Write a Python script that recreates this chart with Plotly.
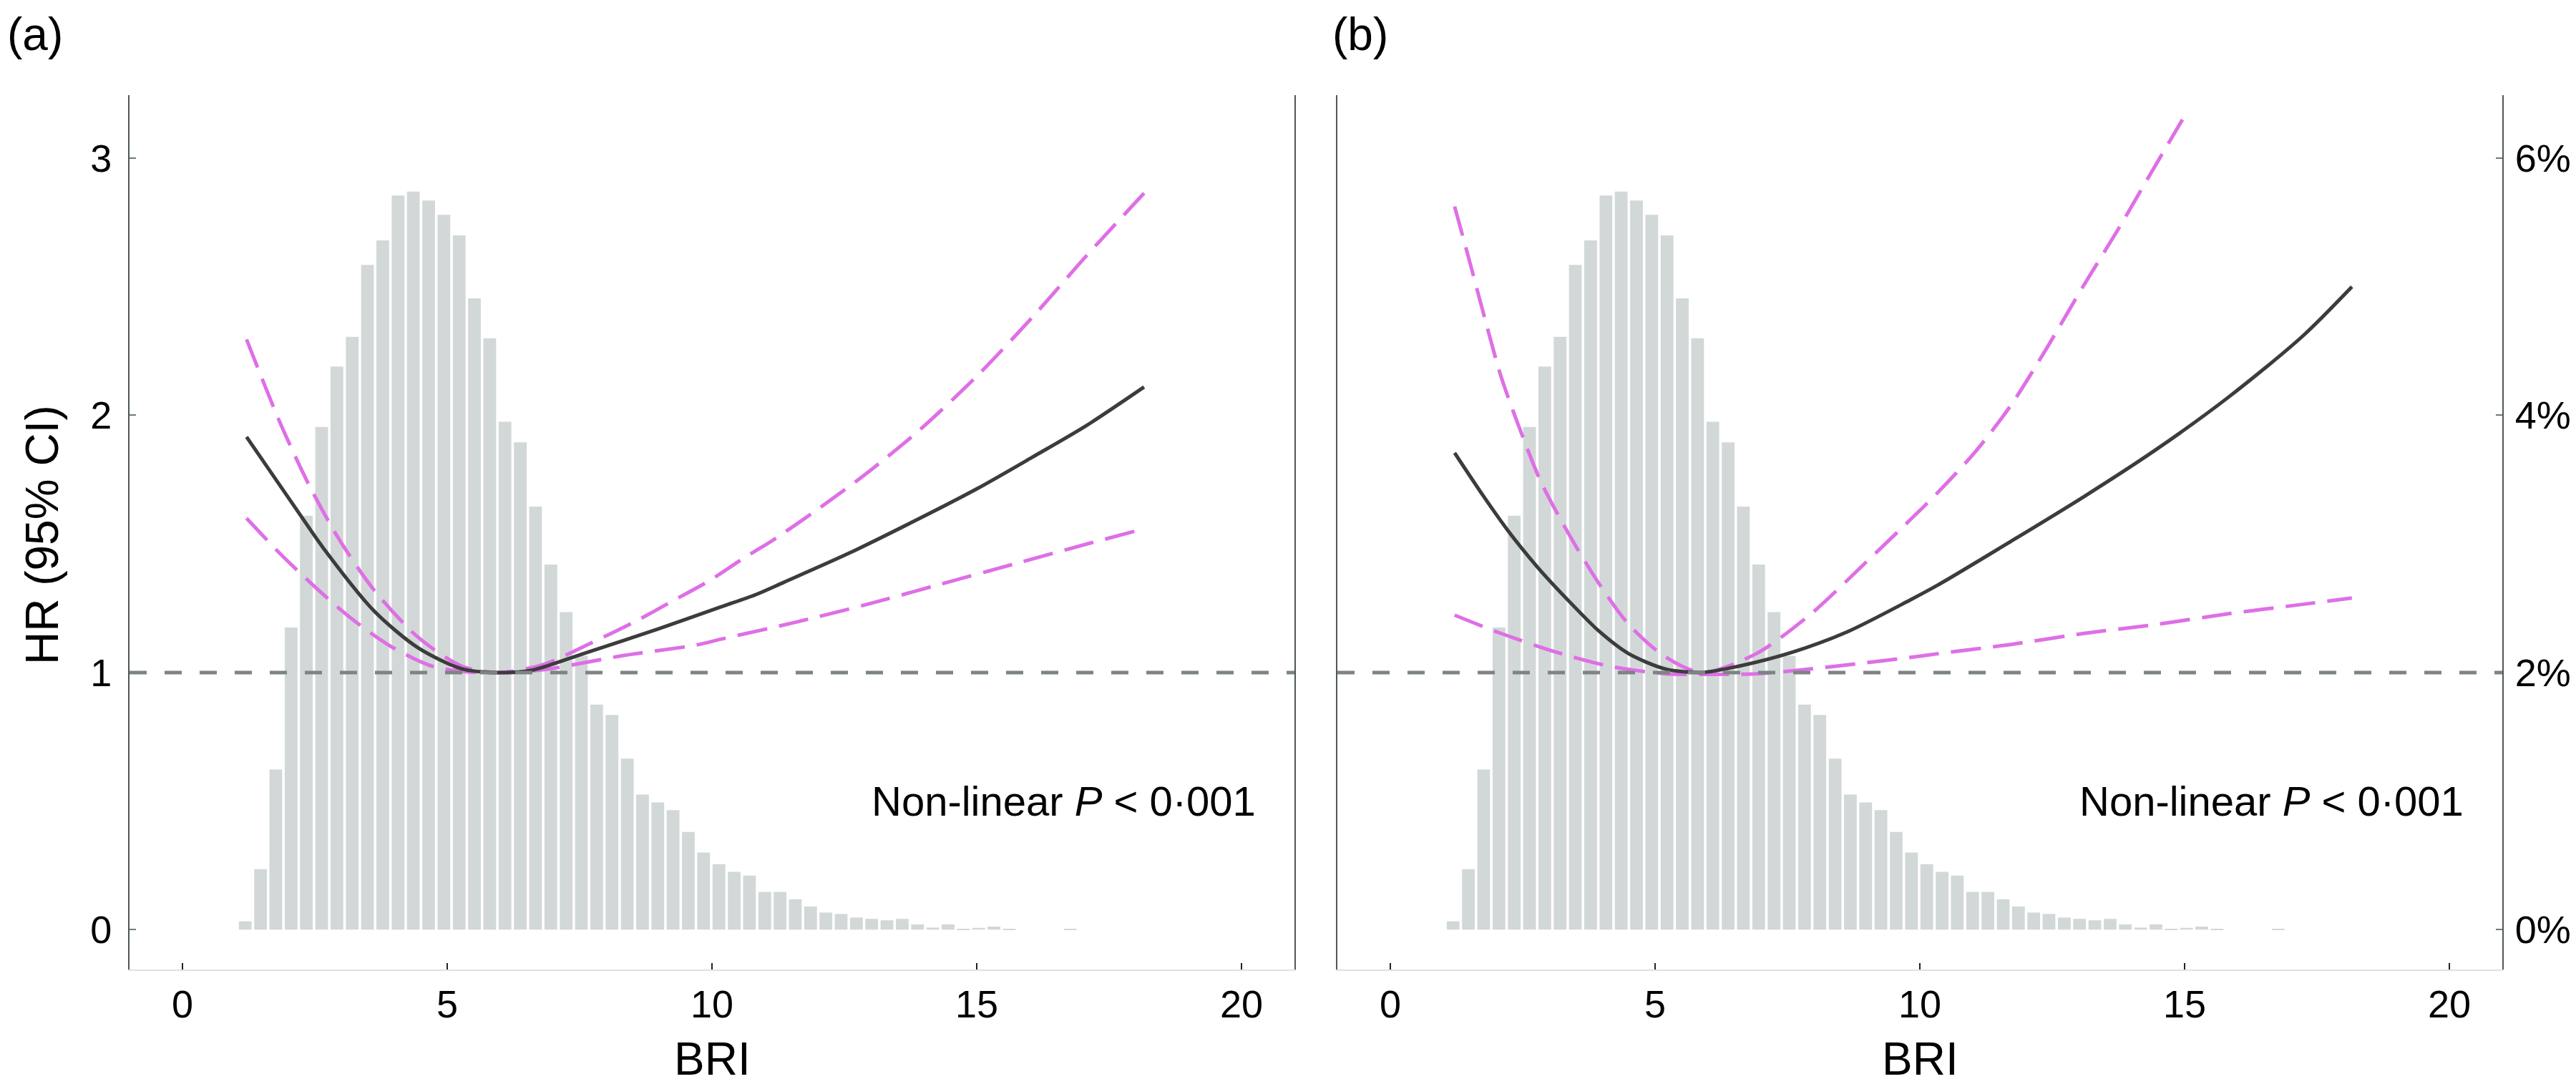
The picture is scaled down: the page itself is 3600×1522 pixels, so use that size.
import plotly.graph_objects as go

# ---------------- data ----------------
# histogram of BRI (bin centres) and share of participants (%)
bri_bins = [1.186, 1.475, 1.763, 2.052, 2.340, 2.629, 2.917, 3.206, 3.494, 3.783,
            4.072, 4.360, 4.649, 4.937, 5.226, 5.514, 5.803, 6.091, 6.380, 6.668,
            6.957, 7.246, 7.534, 7.823, 8.111, 8.400, 8.688, 8.977, 9.265, 9.554,
            9.842, 10.131, 10.420, 10.708, 10.997, 11.285, 11.574, 11.862, 12.151, 12.439,
            12.728, 13.016, 13.305, 13.594, 13.882, 14.171, 14.459, 14.748, 15.036, 15.325,
            15.613, 15.902, 16.190, 16.479, 16.768]
pct_bins = [0.065, 0.47, 1.245, 2.35, 3.22, 3.91, 4.38, 4.61, 5.17, 5.36,
            5.71, 5.74, 5.67, 5.56, 5.40, 4.91, 4.60, 3.95, 3.79, 3.29,
            2.84, 2.47, 2.13, 1.75, 1.67, 1.33, 1.05, 0.99, 0.93, 0.76,
            0.60, 0.51, 0.45, 0.42, 0.294, 0.294, 0.236, 0.18, 0.133, 0.122,
            0.094, 0.084, 0.073, 0.084, 0.041, 0.016, 0.041, 0.006, 0.014, 0.024,
            0.006, 0.0, 0.0, 0.0, 0.006]

# panel (a) hazard ratio curve and 95% CI
a_est_x = [1.21, 2.11, 2.66, 3.62, 4.45, 5.28, 5.96, 6.58, 7.61, 8.99, 10.18, 10.83,
           11.35, 12.59, 13.90, 15.00, 16.04, 17.07, 18.16]
a_est_y = [1.916, 1.647, 1.484, 1.239, 1.096, 1.014, 1.000, 1.008, 1.076, 1.170, 1.256, 1.303,
           1.350, 1.464, 1.597, 1.714, 1.836, 1.960, 2.110]
a_up_x = [1.21, 1.84, 2.39, 2.94, 3.62, 4.45, 5.28, 5.96, 6.80, 7.73, 8.51, 9.23, 9.95,
          10.64, 11.14, 12.04, 12.93, 13.90, 15.00, 16.04, 17.07, 18.16]
a_up_y = [2.295, 1.973, 1.729, 1.524, 1.320, 1.137, 1.024, 1.000, 1.030, 1.116, 1.194, 1.275, 1.357,
          1.450, 1.513, 1.641, 1.776, 1.939, 2.152, 2.379, 2.620, 2.864]
a_lo_x = [1.21, 1.84, 2.46, 3.14, 3.90, 4.72, 5.55, 6.24, 6.93, 8.30, 9.68, 10.18, 11.55,
          12.93, 14.31, 15.69, 17.07, 18.16]
a_lo_y = [1.600, 1.463, 1.341, 1.218, 1.106, 1.024, 1.000, 1.000, 1.014, 1.065, 1.106, 1.130, 1.194,
          1.265, 1.343, 1.421, 1.499, 1.559]

# panel (b) hazard ratio curve and 95% CI
b_est_x = [1.214, 1.745, 2.228, 2.778, 3.399, 3.950, 4.502, 5.19, 5.88, 6.57, 7.61, 8.64,
           9.80, 10.34, 11.72, 13.10, 14.47, 15.85, 17.23, 18.16]
b_est_y = [1.854, 1.690, 1.550, 1.410, 1.272, 1.159, 1.073, 1.014, 1.000, 1.024, 1.080, 1.159,
           1.280, 1.340, 1.510, 1.684, 1.868, 2.074, 2.308, 2.500]
b_up_x = [1.214, 1.469, 1.745, 2.089, 2.434, 2.847, 3.399, 3.950, 4.502, 5.19, 5.88, 6.91,
          7.95, 8.98, 9.80, 10.34, 11.03, 11.72, 12.41, 13.10, 13.78, 14.33, 14.96]
b_up_y = [2.812, 2.620, 2.407, 2.152, 1.953, 1.740, 1.528, 1.343, 1.187, 1.061, 1.000, 1.073,
          1.229, 1.428, 1.590, 1.700, 1.854, 2.039, 2.266, 2.507, 2.735, 2.930, 3.150]
b_lo_x = [1.214, 2.089, 3.12, 4.15, 5.19, 5.88, 6.91, 7.95, 8.98, 9.80, 10.34, 11.72,
          13.10, 14.47, 15.85, 17.23, 18.16]
b_lo_y = [1.223, 1.152, 1.080, 1.024, 0.995, 0.993, 0.995, 1.014, 1.038, 1.058, 1.073, 1.109,
          1.152, 1.187, 1.229, 1.265, 1.290]

hr_ticks = [0, 1, 2, 3]
pct_ticks = [0, 2, 4, 6]
pct_labels = ["0%", "2%", "4%", "6%"]
x_ticks = [0, 5, 10, 15, 20]
annot_text = "Non-linear <i>P</i> &lt; 0·001"

# ---------------- style ----------------
W, H = 3600, 1522
FONT = "Liberation Sans, Arial, sans-serif"
BAR = "#d2d8d7"
EST = "#3c3c3c"
CI = "#de6fe6"
REF = "#7d8484"
AXLINE = "#4f5757"
XLINE = "#dde2e2"
TICKF = 54

xa_dom = [173 / W, 1801 / W]
xb_dom = [1861 / W, 3489 / W]
y_dom = [1 - 1347 / H, 1 - 125 / H]
hr_range = [-0.155, 3.245]
pct_range = [2 * hr_range[0], 2 * hr_range[1]]

fig = go.Figure()

def add_panel(xref, ybase, yover, ex, ey, ux, uy, lx, ly):
    fig.add_trace(go.Bar(x=bri_bins, y=pct_bins, marker=dict(color=BAR, line=dict(width=0)),
                         xaxis=xref, yaxis=ybase, showlegend=False, hoverinfo="skip"))
    for cx, cy in ((ux, uy), (lx, ly)):
        fig.add_trace(go.Scatter(x=cx, y=cy, mode="lines", xaxis=xref, yaxis=yover,
                                 line=dict(color=CI, width=5, dash="42px,17px",
                                           shape="spline", smoothing=0.8),
                                 showlegend=False))
    fig.add_trace(go.Scatter(x=ex, y=ey, mode="lines", xaxis=xref, yaxis=yover,
                             line=dict(color=EST, width=5, shape="spline", smoothing=0.8),
                             showlegend=False))

add_panel("x", "y", "y2", a_est_x, a_est_y, a_up_x, a_up_y, a_lo_x, a_lo_y)
add_panel("x2", "y3", "y4", b_est_x, b_est_y, b_up_x, b_up_y, b_lo_x, b_lo_y)

xcommon = dict(range=[-1, 21], tickmode="array", tickvals=x_ticks, ticks="inside", ticklen=9,
               tickwidth=2, tickcolor="#222222", showline=True, linecolor=XLINE, linewidth=2,
               showgrid=False, zeroline=False, ticklabelstandoff=0,
               tickfont=dict(family=FONT, size=TICKF, color="black"))

fig.update_layout(
    width=W, height=H,
    margin=dict(l=0, r=0, t=0, b=0),
    paper_bgcolor="white", plot_bgcolor="white",
    bargap=0.165,
    font=dict(family=FONT, color="black"),
    xaxis=dict(domain=xa_dom, anchor="y", **xcommon),
    xaxis2=dict(domain=xb_dom, anchor="y3", **xcommon),
    # panel (a): base axis for histogram (%), hidden
    yaxis=dict(domain=y_dom, anchor="x", range=pct_range, visible=False),
    # panel (a): HR axis on the left
    yaxis2=dict(overlaying="y", anchor="x", side="left", range=hr_range,
                tickmode="array", tickvals=hr_ticks,
                ticks="inside", ticklen=9, tickwidth=2, tickcolor="#6d7a7a",
                showline=True, mirror=True, linecolor=AXLINE, linewidth=2,
                showgrid=False, zeroline=False, ticklabelstandoff=12,
                tickfont=dict(family=FONT, size=TICKF, color="black")),
    # panel (b): percentage axis on the right
    yaxis3=dict(domain=y_dom, anchor="x2", side="right", range=pct_range,
                tickmode="array", tickvals=pct_ticks, ticktext=pct_labels,
                ticks="inside", ticklen=9, tickwidth=2, tickcolor="#6d7a7a",
                showline=True, mirror=True, linecolor=AXLINE, linewidth=2,
                showgrid=False, zeroline=False, ticklabelstandoff=5,
                tickfont=dict(family=FONT, size=TICKF, color="black")),
    yaxis4=dict(overlaying="y3", anchor="x2", range=hr_range, visible=False),
)

for xr, yr in (("x", "y2"), ("x2", "y4")):
    fig.add_shape(type="line", xref=f"{xr} domain", yref=yr, x0=0, x1=1, y0=1, y1=1,
                  line=dict(color=REF, width=5, dash="24px,25px"), layer="above")
    fig.add_annotation(x=20.3, y=0.5, xref=xr, yref=yr, text=annot_text, showarrow=False,
                       xanchor="right", yanchor="middle",
                       font=dict(family=FONT, size=58, color="black"))

for cx in ((xa_dom[0] + xa_dom[1]) / 2, (xb_dom[0] + xb_dom[1]) / 2):
    fig.add_annotation(x=cx, y=1 - 1472 / H, xref="paper", yref="paper", text="BRI",
                       showarrow=False, xanchor="center", yanchor="middle",
                       font=dict(family=FONT, size=64, color="black"))

fig.add_annotation(x=51 / W, y=1 - 740 / H, xref="paper", yref="paper", text="HR (95% CI)",
                   textangle=-90, showarrow=False, xanchor="center", yanchor="middle",
                   font=dict(family=FONT, size=64, color="black"))

for lbl, px in (("(a)", 0), ("(b)", 1852)):
    fig.add_annotation(x=px / W, y=1 - 40 / H, xref="paper", yref="paper", text=lbl,
                       showarrow=False, xanchor="left", yanchor="middle",
                       font=dict(family=FONT, size=64, color="black"))

fig.write_html("out.html")
